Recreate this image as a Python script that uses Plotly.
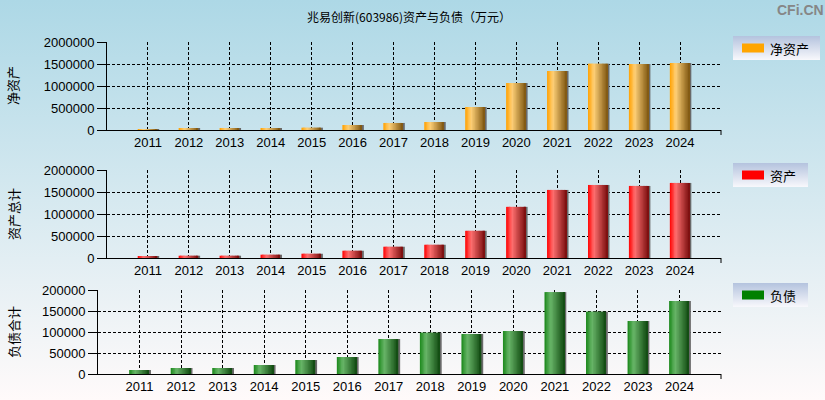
import base64
import plotly.graph_objects as go

W, H = 825, 400

# data (万元)
years = [2011, 2012, 2013, 2014, 2015, 2016, 2017, 2018, 2019, 2020, 2021, 2022, 2023, 2024]
net_assets = [22000, 26000, 30000, 34000, 53000, 114000, 160000, 182000, 523000,
              1068000, 1341000, 1507000, 1500000, 1523000]
total_assets = [30000, 52000, 52000, 75000, 97000, 165000, 256000, 301000, 618000,
                1162000, 1547000, 1660000, 1638000, 1706000]
liabilities = [9500, 14300, 14300, 21400, 33300, 40500, 83300, 98400, 95200,
               102400, 195000, 148400, 126200, 173800]

chart_title = "兆易创新(603986)资产与负债（万元）"
axis_titles = ["净资产", "资产总计", "负债合计"]
legend_names = ["净资产", "资产", "负债"]


def fx(p):
    return p / W


def fy(p):
    return 1 - p / H


def svg_gradient(w, h, top, bottom):
    svg = (f'<svg xmlns="http://www.w3.org/2000/svg" width="{w}" height="{h}" preserveAspectRatio="none">'
           '<defs><linearGradient id="g" x1="0" y1="0" x2="0" y2="1">'
           f'<stop offset="0" stop-color="{top}"/><stop offset="1" stop-color="{bottom}"/>'
           f'</linearGradient></defs><rect width="{w}" height="{h}" fill="url(#g)"/></svg>')
    return "data:image/svg+xml;base64," + base64.b64encode(svg.encode()).decode()


def mix(stops, t):
    for (t0, c0), (t1, c1) in zip(stops, stops[1:]):
        if t <= t1:
            f = (t - t0) / (t1 - t0)
            c = [round(a + (b - a) * f) for a, b in zip(c0, c1)]
            return f"rgb({c[0]},{c[1]},{c[2]})"
    c = stops[-1][1]
    return f"rgb({c[0]},{c[1]},{c[2]})"


panels = [
    dict(values=net_assets, swatch="#FFA500", top=42, bottom=130, left=107, ymax=2000000, dtick=500000,
         stops=[(0, (255, 160, 0)), (0.3, (255, 208, 120)), (1, (125, 85, 15))],
         box=(733, 36, 820, 60)),
    dict(values=total_assets, swatch="#FF0000", top=170, bottom=258, left=107, ymax=2000000, dtick=500000,
         stops=[(0, (255, 0, 0)), (0.3, (255, 112, 112)), (1, (120, 12, 12))],
         box=(733, 163, 808, 187)),
    dict(values=liabilities, swatch="#008000", top=290, bottom=374, left=98, ymax=200000, dtick=50000,
         stops=[(0, (25, 135, 25)), (0.3, (105, 182, 105)), (1, (15, 72, 15))],
         box=(733, 283, 808, 307)),
]

fig = go.Figure()
images, shapes, annotations = [], [], []

images.append(dict(source=svg_gradient(W, H, "#ADD8E6", "#FFFAFA"), xref="paper", yref="paper",
                   x=0, y=1, sizex=1, sizey=1, xanchor="left", yanchor="top",
                   sizing="stretch", layer="below"))

N = 14
lo, hi = -0.25, 0.23
sw = (hi - lo) / N

for i, p in enumerate(panels):
    xa = "x" if i == 0 else f"x{i + 1}"
    ya = "y" if i == 0 else f"y{i + 1}"
    # shadow on the right side
    fig.add_trace(go.Bar(x=years, y=p["values"], offset=hi - 0.01, width=0.055,
                         marker=dict(color="rgb(105,105,105)", line_width=0),
                         xaxis=xa, yaxis=ya, showlegend=False, hoverinfo="skip"))
    for k in range(N):
        w = sw * 1.6 if k < N - 1 else sw
        fig.add_trace(go.Bar(x=years, y=p["values"], offset=lo + k * sw, width=w,
                             marker=dict(color=mix(p["stops"], (k + 0.5) / N), line_width=0),
                             xaxis=xa, yaxis=ya, showlegend=False, hoverinfo="skip"))

    grid = dict(showgrid=True, gridcolor="black", gridwidth=1, griddash="3px,2px",
                zeroline=False, showline=True, linecolor="black", linewidth=1,
                tickcolor="black", fixedrange=True, automargin=False)
    fig.layout[("xaxis" if i == 0 else f"xaxis{i + 1}")] = dict(
        grid, domain=[fx(p["left"]), fx(721)], anchor=ya, range=[2010, 2025], ticks="",
        tickvals=years + [2025], ticktext=[str(y) for y in years] + [""],
        tickfont=dict(family="Liberation Sans Narrow, Arial Narrow, Liberation Sans", size=13, color="black"))
    fig.layout[("yaxis" if i == 0 else f"yaxis{i + 1}")] = dict(
        grid, domain=[fy(p["bottom"]), fy(p["top"])], anchor=xa, range=[0, p["ymax"]],
        dtick=p["dtick"], tickformat="d", ticks="outside", ticklen=9,
        tickfont=dict(family="Liberation Sans, Arial", size=13, color="black"))

    # small tick at the right end of the category axis
    shapes.append(dict(type="line", xref="paper", yref="paper", x0=fx(721), x1=fx(721),
                       y0=fy(p["bottom"]), y1=fy(p["bottom"] + 5), line=dict(color="black", width=1)))

    # axis title
    annotations.append(dict(text=axis_titles[i], x=fx(13), y=fy((p["top"] + p["bottom"]) / 2),
                            xref="paper", yref="paper", xanchor="center", yanchor="middle",
                            showarrow=False, textangle=-90,
                            font=dict(family="Noto Sans CJK SC", size=13, color="black")))

    # legend box
    x0, y0, x1, y1 = p["box"]
    images.append(dict(source=svg_gradient(x1 - x0, y1 - y0, "#B4C3DE", "#F8F8FC"),
                       xref="paper", yref="paper", x=fx(x0), y=fy(y0),
                       sizex=fx(x1) - fx(x0), sizey=fy(y0) - fy(y1),
                       xanchor="left", yanchor="top", sizing="stretch", layer="below"))
    cy = (y0 + y1) / 2
    shapes.append(dict(type="rect", xref="paper", yref="paper", x0=fx(742), x1=fx(764),
                       y0=fy(cy - 4.5), y1=fy(cy + 4.5), fillcolor=p["swatch"], line_width=0))
    annotations.append(dict(text=legend_names[i], x=fx(768), y=fy(cy), xref="paper", yref="paper",
                            xanchor="left", yanchor="middle", showarrow=False,
                            font=dict(family="Noto Sans CJK SC", size=13, color="black")))

annotations.append(dict(text=chart_title, x=fx(409), y=fy(17), xref="paper", yref="paper",
                        xanchor="center", yanchor="middle", showarrow=False,
                        font=dict(family="Noto Sans CJK SC", size=12, color="black")))
annotations.append(dict(text="<b>CFi.CN</b>", x=fx(800), y=fy(10), xref="paper", yref="paper",
                        xanchor="center", yanchor="middle", showarrow=False,
                        font=dict(family="Liberation Sans, Arial", size=14, color="#868686")))

fig.update_layout(width=W, height=H, autosize=False,
                  margin=dict(l=0, r=0, t=0, b=0, pad=0, autoexpand=False),
                  barmode="overlay", paper_bgcolor="#CFE5EE", plot_bgcolor="rgba(0,0,0,0)",
                  images=images, shapes=shapes, annotations=annotations, showlegend=False)

# page body has a default 8px margin; drop it so the figure fills the window
fig.write_html("out.html", config={"displayModeBar": False},
               post_script="document.body.style.margin='0';")
